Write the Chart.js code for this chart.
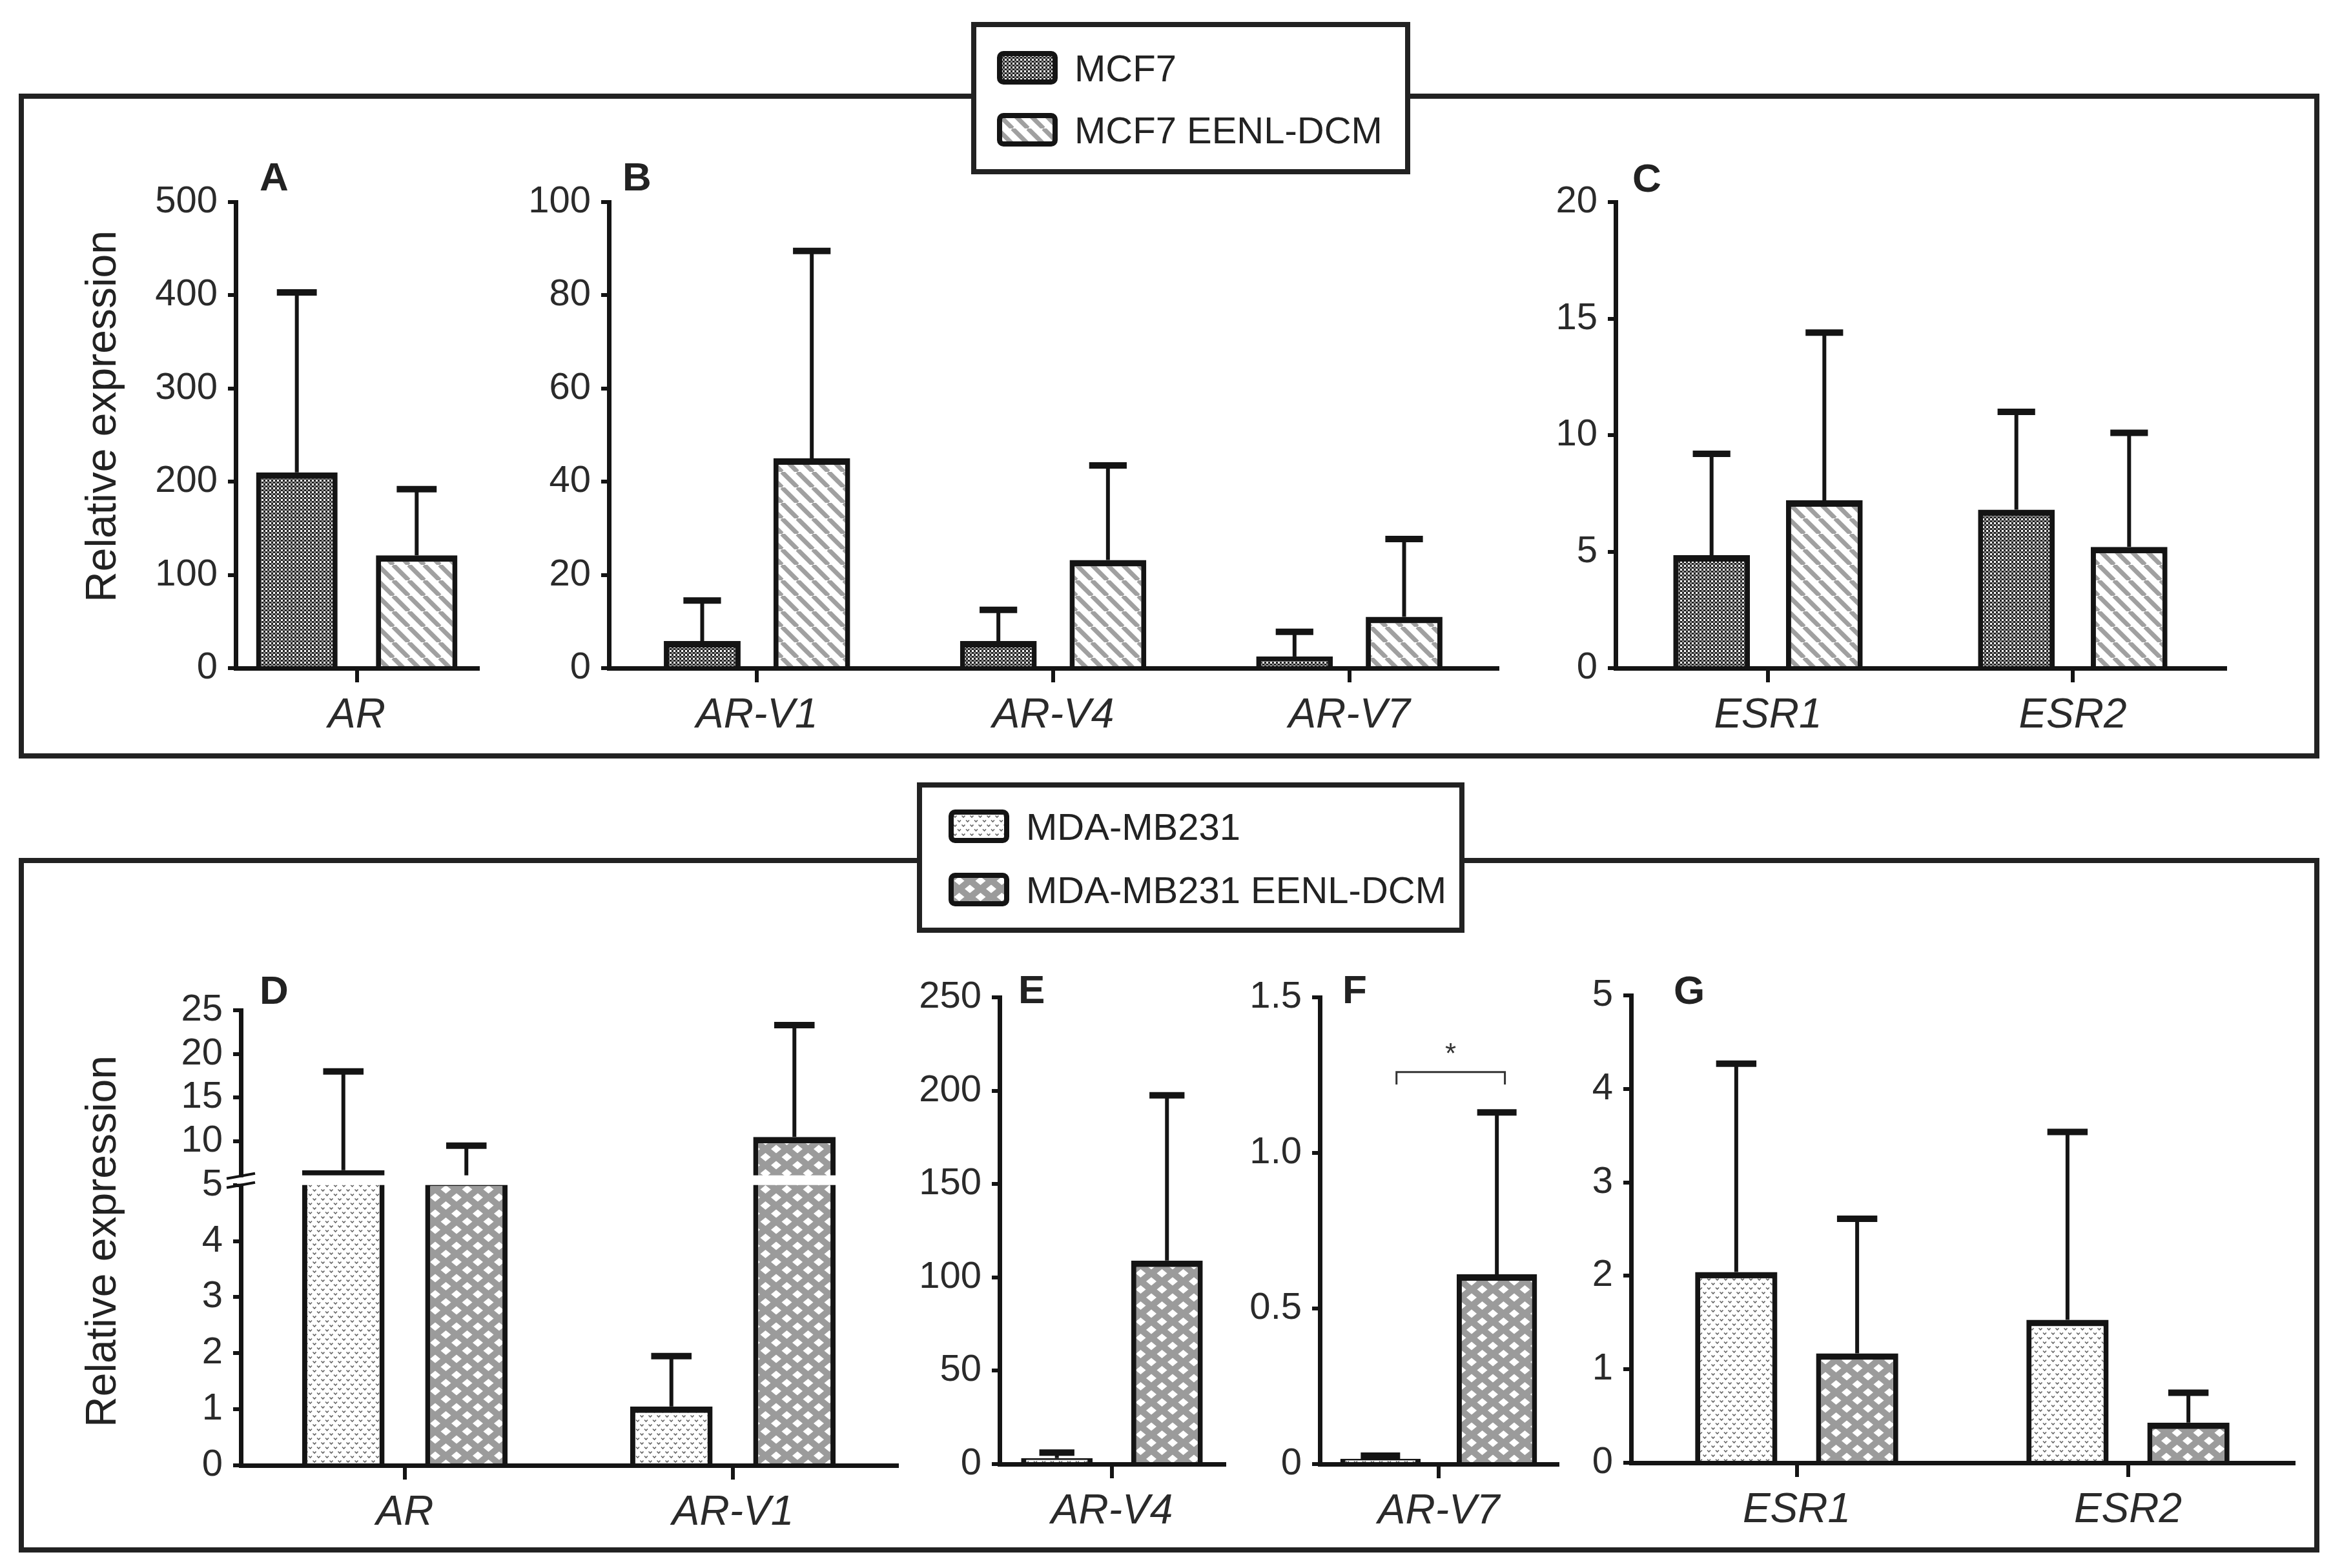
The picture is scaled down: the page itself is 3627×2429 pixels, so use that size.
<!DOCTYPE html>
<html>
<head>
<meta charset="utf-8">
<script src="https://cdn.jsdelivr.net/npm/chart.js@4.4.1/dist/chart.umd.min.js"></script>
<style>
  html, body { margin: 0; padding: 0; background: #fff; }
  #page { position: relative; width: 3627px; height: 2429px; overflow: hidden; background: #fff;
          font-family: "Liberation Sans", Arial, sans-serif; }
  .frame { position: absolute; border: 8px solid #222; box-sizing: border-box; }
  .legend { position: absolute; border: 8px solid #222; background: #fff; box-sizing: border-box; }
  .item { position: absolute; display: flex; align-items: center; font-size: 58px; color: #222; white-space: nowrap; }
  .item canvas { margin-right: 26px; }
  canvas.panel { position: absolute; }
</style>
</head>
<body>
<div id="page">
  <div class="frame" style="left:29px;top:145px;width:3563px;height:1030px"></div>
  <div class="frame" style="left:29px;top:1329px;width:3563px;height:1076px"></div>
</div>
<script>
// ---------- data ----------
var genesA = ['AR'];
var genesB = ['AR-V1', 'AR-V4', 'AR-V7'];
var genesC = ['ESR1', 'ESR2'];
var genesD = ['AR', 'AR-V1'];
var genesE = ['AR-V4'];
var genesF = ['AR-V7'];
var genesG = ['ESR1', 'ESR2'];

var mcf7A = [210], mcf7SdA = [193];
var mcf7DcmA = [121], mcf7DcmSdA = [71];
var mcf7B = [5.8, 5.8, 2.5], mcf7SdB = [8.7, 6.7, 5.3];
var mcf7DcmB = [45, 23.2, 11], mcf7DcmSdB = [44.5, 20.3, 16.7];
var mcf7C = [4.85, 6.8], mcf7SdC = [4.35, 4.2];
var mcf7DcmC = [7.2, 5.2], mcf7DcmSdC = [7.2, 4.9];

var mdaD = [6.7, 1.05], mdaSdD = [11.3, 0.9];
var mdaDcmD = [5.6, 10.5], mdaDcmSdD = [3.9, 12.8];
var mdaE = [3.2], mdaSdE = [2.9];
var mdaDcmE = [109], mdaDcmSdE = [88.5];
var mdaF = [0.017], mdaSdF = [0.01];
var mdaDcmF = [0.61], mdaDcmSdF = [0.52];
var mdaG = [2.04, 1.53], mdaSdG = [2.23, 2.01];
var mdaDcmG = [1.17, 0.43], mdaDcmSdG = [1.44, 0.32];

var ticksD = [0, 1, 2, 3, 4, 5, 10, 15, 20, 25];
var breakD = 5;           // axis break value in panel D
var sigLevelF = 1.26;     // bracket height in panel F

var FONT = '"Liberation Sans", Arial, sans-serif';
var INK = '#141414';
var YW = 260, TOP = 110, RIGHT = 30, XH = 150;

// ---------- fill patterns ----------
function makePattern(kind) {
    var c = document.createElement('canvas');
    var g = c.getContext('2d');
    if (kind === 'check') {
        c.width = c.height = 6;
        g.fillStyle = '#222'; g.fillRect(0, 0, 6, 6);
        g.fillStyle = '#fff'; g.fillRect(0, 0, 3, 3);
        g.fillStyle = '#8a8a8a'; g.fillRect(3, 3, 3, 3);
    } else if (kind === 'stripe') {
        var s = 24;
        c.width = c.height = s;
        g.fillStyle = '#fff'; g.fillRect(0, 0, s, s);
        g.strokeStyle = '#a0a0a0'; g.lineWidth = 7;
        [-1, 0, 1].forEach(function (k) {
            g.beginPath(); g.moveTo(k * s, 0); g.lineTo(k * s + s, s); g.stroke();
        });
    } else if (kind === 'dots') {
        c.width = 13; c.height = 14;
        g.fillStyle = '#fff'; g.fillRect(0, 0, 13, 14);
        g.strokeStyle = '#666'; g.lineWidth = 1.6;
        [[3.5, 2.5], [10, 9.5]].forEach(function (p) {
            g.beginPath(); g.moveTo(p[0] - 2.5, p[1]); g.lineTo(p[0], p[1] + 2.5); g.lineTo(p[0] + 2.5, p[1]); g.stroke();
        });
    } else if (kind === 'diamond') {
        var w = 33, h = 25;
        c.width = w; c.height = h;
        g.fillStyle = '#9b9b9b'; g.fillRect(0, 0, w, h);
        g.fillStyle = '#fff';
        [[w / 2, h / 2], [0, 0], [w, 0], [0, h], [w, h]].forEach(function (p) {
            g.beginPath();
            g.moveTo(p[0], p[1] - 6.5); g.lineTo(p[0] + 8, p[1]);
            g.lineTo(p[0], p[1] + 6.5); g.lineTo(p[0] - 8, p[1]);
            g.closePath(); g.fill();
        });
    }
    return g.createPattern(c, 'repeat');
}
var patterns = {
    check: makePattern('check'), stripe: makePattern('stripe'),
    dots: makePattern('dots'), diamond: makePattern('diamond')
};

// ---------- broken linear scale for panel D ----------
class BrokenLinearScale extends Chart.LinearScale {
    getPixelForValue(value) {
        var b = this.options.breakValue, f = this.options.breakFraction, dec;
        if (value <= b) dec = (value - this.min) / (b - this.min) * f;
        else dec = f + (value - b) / (this.max - b) * (1 - f);
        return this.getPixelForDecimal(dec);
    }
    getValueForPixel(pixel) {
        var b = this.options.breakValue, f = this.options.breakFraction;
        var dec = this.getDecimalForPixel(pixel);
        if (dec <= f) return this.min + dec / f * (b - this.min);
        return b + (dec - f) / (1 - f) * (this.max - b);
    }
}
BrokenLinearScale.id = 'brokenLinear';
BrokenLinearScale.defaults = Chart.LinearScale.defaults;
Chart.register(BrokenLinearScale);

// ---------- plugins ----------
var errorBars = {
    id: 'errorBars',
    afterDatasetsDraw: function (chart) {
        var ctx = chart.ctx, y = chart.scales.y;
        chart.data.datasets.forEach(function (ds, i) {
            chart.getDatasetMeta(i).data.forEach(function (bar, j) {
                var top = y.getPixelForValue(ds.data[j] + ds.sd[j]);
                ctx.save();
                ctx.strokeStyle = INK;
                ctx.lineWidth = 6;
                ctx.beginPath(); ctx.moveTo(bar.x, bar.y); ctx.lineTo(bar.x, top); ctx.stroke();
                ctx.lineWidth = 10;
                var hw = bar.width * 0.245;
                ctx.beginPath(); ctx.moveTo(bar.x - hw, top); ctx.lineTo(bar.x + hw, top); ctx.stroke();
                ctx.restore();
            });
        });
    }
};

var axisBreak = {
    id: 'axisBreak',
    afterDatasetsDraw: function (chart) {
        var ctx = chart.ctx, y = chart.scales.y, area = chart.chartArea;
        var p = y.getPixelForValue(breakD);
        ctx.save();
        ctx.fillStyle = '#fff';
        ctx.fillRect(area.left + 5, p - 15, area.right - area.left - 5, 15);
        ctx.fillRect(area.left - 6, p - 12, 12, 10);
        ctx.strokeStyle = INK; ctx.lineWidth = 4;
        [p - 14, p].forEach(function (yy) {
            ctx.beginPath(); ctx.moveTo(area.left - 22, yy + 4); ctx.lineTo(area.left + 22, yy - 4); ctx.stroke();
        });
        ctx.restore();
    }
};

var sigBracket = {
    id: 'sigBracket',
    afterDatasetsDraw: function (chart) {
        var ctx = chart.ctx, y = chart.scales.y;
        var b0 = chart.getDatasetMeta(0).data[0], b1 = chart.getDatasetMeta(1).data[0];
        var x0 = b0.x + b0.width * 0.2, x1 = b1.x + b1.width * 0.1;
        var yl = y.getPixelForValue(sigLevelF), yd = y.getPixelForValue(sigLevelF - 0.04);
        ctx.save();
        ctx.strokeStyle = '#333'; ctx.lineWidth = 3;
        ctx.beginPath(); ctx.moveTo(x0, yd); ctx.lineTo(x0, yl); ctx.lineTo(x1, yl); ctx.lineTo(x1, yd); ctx.stroke();
        ctx.fillStyle = '#333'; ctx.font = '44px ' + FONT; ctx.textAlign = 'center'; ctx.textBaseline = 'alphabetic';
        ctx.fillText('*', (x0 + x1) / 2, yl - 14);
        ctx.restore();
    }
};

var panelText = {
    id: 'panelText',
    afterDraw: function (chart, args, opts) {
        var ctx = chart.ctx;
        ctx.save();
        ctx.fillStyle = '#222';
        ctx.textBaseline = 'alphabetic';
        ctx.font = 'bold 62px ' + FONT;
        ctx.textAlign = 'left';
        ctx.fillText(opts.letter, opts.lx, opts.ly);
        if (opts.title) {
            ctx.font = '66px ' + FONT;
            ctx.textAlign = 'center';
            ctx.textBaseline = 'middle';
            ctx.translate(opts.tx, opts.ty);
            ctx.rotate(-Math.PI / 2);
            ctx.fillText(opts.title, 0, 0);
        }
        ctx.restore();
    }
};

// ---------- panel builder ----------
function barPanel(spec) {
    var a = spec.area;
    var cl = a.l - YW, ct = a.t - TOP;
    var cw = YW + (a.r - a.l) + RIGHT, ch = TOP + (a.b - a.t) + XH;
    var canvas = document.createElement('canvas');
    canvas.className = 'panel';
    canvas.width = cw; canvas.height = ch;
    canvas.style.left = cl + 'px'; canvas.style.top = ct + 'px';
    canvas.style.width = cw + 'px'; canvas.style.height = ch + 'px';
    document.getElementById('page').appendChild(canvas);

    var datasets = spec.series.map(function (s) {
        return {
            label: s.label, data: s.mean, sd: s.sd,
            backgroundColor: s.fill, borderColor: INK,
            borderWidth: { top: 10, left: 8, right: 8, bottom: 0 }, borderSkipped: 'start',
            barPercentage: spec.barPct, categoryPercentage: spec.catPct
        };
    });

    var yScale = Object.assign({
        min: 0, max: spec.yMax,
        ticks: { stepSize: spec.step, font: { size: 58, family: FONT }, color: '#2a2a2a', padding: 16 },
        grid: { display: true, drawOnChartArea: false, drawTicks: true, tickLength: 12, tickWidth: 6, tickColor: INK, color: INK, lineWidth: 6 },
        border: { display: true, color: INK, width: 7 },
        afterFit: function (s) { s.width = YW; }
    }, spec.yExtra || {});
    if (spec.tickFormat) yScale.ticks.callback = spec.tickFormat;

    var plugins = [errorBars].concat(spec.plugins || []).concat([panelText]);

    return new Chart(canvas.getContext('2d'), {
        type: 'bar',
        data: { labels: spec.labels, datasets: datasets },
        options: {
            responsive: false, animation: false,
            layout: { padding: { left: 0, top: TOP, right: RIGHT, bottom: 0 } },
            plugins: {
                legend: { display: false }, tooltip: { enabled: false },
                panelText: {
                    letter: spec.letter, lx: spec.letterAt[0] - cl, ly: spec.letterAt[1] - ct,
                    title: spec.title, tx: spec.titleAt ? spec.titleAt[0] - cl : 0, ty: spec.titleAt ? spec.titleAt[1] - ct : 0
                }
            },
            scales: {
                x: {
                    type: 'category', offset: true,
                    grid: { display: true, offset: false, drawOnChartArea: false, drawTicks: true, tickLength: 22, tickWidth: 6, tickColor: INK, color: INK, lineWidth: 6 },
                    border: { display: true, color: INK, width: 7 },
                    ticks: { font: { size: 64, style: 'italic', family: FONT }, color: '#2a2a2a', padding: 14, maxRotation: 0, autoSkip: false },
                    afterFit: function (s) { s.height = XH; }
                },
                y: yScale
            }
        },
        plugins: plugins
    });
}

function mcfSeries(m1, s1, m2, s2) {
    return [
        { label: 'MCF7', mean: m1, sd: s1, fill: patterns.check },
        { label: 'MCF7 EENL-DCM', mean: m2, sd: s2, fill: patterns.stripe }
    ];
}
function mdaSeries(m1, s1, m2, s2) {
    return [
        { label: 'MDA-MB231', mean: m1, sd: s1, fill: patterns.dots },
        { label: 'MDA-MB231 EENL-DCM', mean: m2, sd: s2, fill: patterns.diamond }
    ];
}

// ---------- top row: MCF7 ----------
barPanel({ area: { l: 365, r: 740, t: 313, b: 1035 }, labels: genesA, yMax: 500, step: 100,
    series: mcfSeries(mcf7A, mcf7SdA, mcf7DcmA, mcf7DcmSdA), catPct: 0.99, barPct: 0.68,
    letter: 'A', letterAt: [402, 295], title: 'Relative expression', titleAt: [161, 645] });
barPanel({ area: { l: 943, r: 2319, t: 313, b: 1035 }, labels: genesB, yMax: 100, step: 20,
    series: mcfSeries(mcf7B, mcf7SdB, mcf7DcmB, mcf7DcmSdB), catPct: 0.74, barPct: 0.70,
    letter: 'B', letterAt: [964, 295] });
barPanel({ area: { l: 2502, r: 3446, t: 313, b: 1035 }, labels: genesC, yMax: 20, step: 5,
    series: mcfSeries(mcf7C, mcf7SdC, mcf7DcmC, mcf7DcmSdC), catPct: 0.74, barPct: 0.68,
    letter: 'C', letterAt: [2528, 297] });

// ---------- bottom row: MDA-MB231 ----------
barPanel({ area: { l: 373, r: 1389, t: 1565, b: 2270 }, labels: genesD, yMax: 25,
    series: mdaSeries(mdaD, mdaSdD, mdaDcmD, mdaDcmSdD), catPct: 0.75, barPct: 0.67,
    yExtra: { type: 'brokenLinear', breakValue: breakD, breakFraction: 0.616,
              afterBuildTicks: function (s) { s.ticks = ticksD.map(function (v) { return { value: v }; }); } },
    plugins: [axisBreak],
    letter: 'D', letterAt: [402, 1555], title: 'Relative expression', titleAt: [161, 1923] });
barPanel({ area: { l: 1548, r: 1896, t: 1545, b: 2268 }, labels: genesE, yMax: 250, step: 50,
    series: mdaSeries(mdaE, mdaSdE, mdaDcmE, mdaDcmSdE), catPct: 0.98, barPct: 0.65,
    letter: 'E', letterAt: [1577, 1554] });
barPanel({ area: { l: 2044, r: 2412, t: 1545, b: 2268 }, labels: genesF, yMax: 1.5, step: 0.5,
    series: mdaSeries(mdaF, mdaSdF, mdaDcmF, mdaDcmSdF), catPct: 0.98, barPct: 0.69,
    tickFormat: function (v) { return v === 0 ? '0' : v.toFixed(1); },
    plugins: [sigBracket],
    letter: 'F', letterAt: [2079, 1554] });
barPanel({ area: { l: 2526, r: 3552, t: 1542, b: 2266 }, labels: genesG, yMax: 5, step: 1,
    series: mdaSeries(mdaG, mdaSdG, mdaDcmG, mdaDcmSdG), catPct: 0.73, barPct: 0.68,
    letter: 'G', letterAt: [2592, 1555] });

// ---------- legends ----------
function addLegend(box, items) {
    var page = document.getElementById('page');
    var d = document.createElement('div');
    d.className = 'legend';
    d.style.left = box[0] + 'px'; d.style.top = box[1] + 'px';
    d.style.width = box[2] + 'px'; d.style.height = box[3] + 'px';
    page.appendChild(d);
    items.forEach(function (it) {
        var row = document.createElement('div');
        row.className = 'item';
        row.style.left = it.x + 'px'; row.style.top = it.y + 'px'; row.style.height = '52px';
        var sw = document.createElement('canvas');
        sw.width = 94; sw.height = 52;
        var g = sw.getContext('2d');
        g.fillStyle = it.fill; g.fillRect(4, 4, 86, 44);
        g.strokeStyle = INK; g.lineWidth = 8;
        g.beginPath();
        if (g.roundRect) g.roundRect(4, 4, 86, 44, 6); else g.rect(4, 4, 86, 44);
        g.stroke();
        row.appendChild(sw);
        row.appendChild(document.createTextNode(it.text));
        page.appendChild(row);
    });
}
addLegend([1504, 34, 680, 236], [
    { x: 1544, y: 79, text: 'MCF7', fill: patterns.check },
    { x: 1544, y: 175, text: 'MCF7 EENL-DCM', fill: patterns.stripe }
]);
addLegend([1420, 1212, 848, 233], [
    { x: 1469, y: 1254, text: 'MDA-MB231', fill: patterns.dots },
    { x: 1469, y: 1352, text: 'MDA-MB231 EENL-DCM', fill: patterns.diamond }
]);
</script>
</body>
</html>
